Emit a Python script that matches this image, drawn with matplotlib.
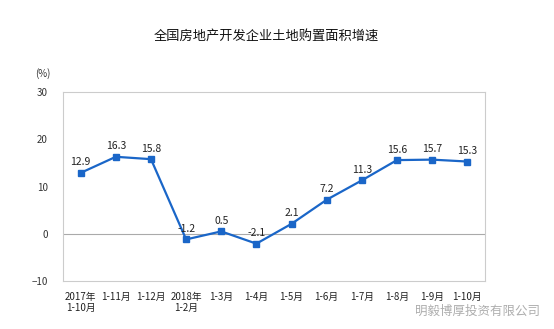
import matplotlib.pyplot as plt

plt.rcParams['font.family'] = ['Noto Sans CJK SC', 'DejaVu Sans']

months = ['2017年\n1-10月', '1-11月', '1-12月', '2018年\n1-2月', '1-3月', '1-4月',
          '1-5月', '1-6月', '1-7月', '1-8月', '1-9月', '1-10月']
growth = [12.9, 16.3, 15.8, -1.2, 0.5, -2.1, 2.1, 7.2, 11.3, 15.6, 15.7, 15.3]

fig = plt.figure(figsize=(5.54, 3.29), dpi=100)
ax = fig.add_axes([0.114, 0.146, 0.761, 0.574])

x = list(range(len(months)))
ax.plot(x, growth, color='#1a66c8', lw=1.6, marker='s', ms=4, zorder=3)
for xi, v in zip(x, growth):
    ax.annotate(f'{v}', (xi, v), xytext=(0, 4), textcoords='offset points',
                ha='center', va='bottom', fontsize=7.5, color='#222222')

ax.set_xlim(-0.5, len(months) - 0.5)
ax.set_ylim(-10, 30)
ax.set_yticks([-10, 0, 10, 20, 30])
ax.axhline(0, color='#aaaaaa', lw=0.8, zorder=1)
for s in ax.spines.values():
    s.set_color('#cccccc')
    s.set_linewidth(0.8)
ax.tick_params(axis='y', length=0, labelsize=7, colors='#333333', pad=11)
ax.tick_params(axis='x', length=0, labelsize=7, colors='#222222', pad=8)
ax.set_xticks(x)
ax.set_xticklabels(months, linespacing=1.1)

fig.text(0.48, 0.888, '全国房地产开发企业土地购置面积增速', ha='center', va='center',
         fontsize=9.5, color='#111111')
fig.text(0.078, 0.778, '(%)', ha='center', va='center', fontsize=7, color='#333333')
fig.text(0.975, 0.055, '明毅博厚投资有限公司', ha='right', va='center',
         fontsize=9, color='#999999', alpha=0.8)

fig.savefig('out.png', dpi=100)
